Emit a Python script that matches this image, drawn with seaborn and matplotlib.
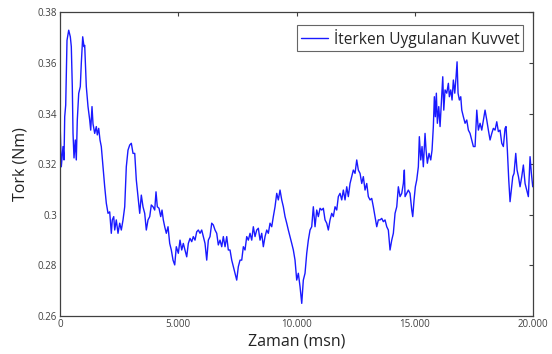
import numpy as np
import pandas as pd
import matplotlib
matplotlib.use("Agg")
import matplotlib.pyplot as plt
from matplotlib.ticker import FuncFormatter
import seaborn as sns

# time (ms) and torque (Nm)
zaman = [
    0, 55, 127, 169, 199, 241, 296, 368, 436, 478, 520, 550, 592, 647, 689,
    731, 791, 858, 901, 960, 1015, 1044, 1112, 1184, 1256, 1298, 1353, 1395,
    1467, 1535, 1577, 1636, 1691, 1746, 1818, 1890, 1958, 2030, 2101, 2169,
    2211, 2271, 2313, 2380, 2452, 2524, 2592, 2664, 2736, 2803, 2875, 2947,
    3015, 3087, 3159, 3226, 3298, 3370, 3438, 3509, 3581, 3649, 3721, 3793,
    3860, 3932, 4004, 4059, 4114, 4186, 4258, 4313, 4368, 4427, 4495, 4567,
    4638, 4706, 4778, 4850, 4917,
    5002, 5074, 5146, 5213, 5285, 5357, 5425, 5497, 5569, 5636, 5708, 5780,
    5848, 5920, 5991, 6059, 6131, 6203, 6271, 6342, 6414, 6482, 6554, 6626,
    6693, 6765, 6837, 6905, 6977, 7049, 7116, 7188, 7260, 7328, 7400, 7471,
    7539, 7611, 7683, 7751, 7822, 7894, 7962, 8034, 8106, 8173, 8245, 8317,
    8385, 8457, 8528, 8596, 8668, 8740, 8808, 8879, 8951, 9019, 9091, 9163,
    9230, 9302, 9374, 9442, 9514, 9585, 9653, 9725, 9797, 9865, 9936,
    10008, 10076, 10148, 10220, 10287, 10359, 10431, 10499, 10571, 10642,
    10710, 10782, 10854, 10922, 10994, 11065, 11133, 11205, 11277, 11344,
    11416, 11488, 11556, 11628, 11699, 11767, 11839, 11911, 11979, 12051,
    12122, 12190, 12262, 12334, 12401, 12473, 12545, 12613, 12685, 12757,
    12824, 12896, 12968, 13036, 13108, 13179, 13247, 13319, 13391, 13459,
    13531, 13602, 13670, 13742, 13814, 13881, 13953, 14025, 14093, 14165,
    14237, 14304, 14376, 14448, 14516, 14558, 14588, 14659, 14727,
    14799, 14871, 14913, 14968, 15023, 15082, 15150, 15192, 15252, 15306,
    15361, 15433, 15476, 15531, 15602, 15674, 15729, 15784, 15827, 15869,
    15911, 15954, 16013, 16068, 16123, 16182, 16225, 16279, 16351, 16419,
    16461, 16520, 16575, 16630, 16690, 16745, 16787, 16829, 16884, 16943,
    16986, 17053, 17125, 17197, 17265, 17336, 17408, 17476, 17548, 17620,
    17687, 17759, 17831, 17899, 17970, 18042, 18110, 18182, 18254, 18321,
    18393, 18465, 18533, 18604, 18676, 18744, 18816, 18858, 18913, 18972,
    19027, 19082, 19142, 19196, 19268, 19323, 19383, 19450, 19522, 19590,
    19662, 19733, 19801, 19873, 19928, 19987,
]
tork = [
    0.3375, 0.319, 0.327, 0.3217, 0.3388, 0.3434, 0.369, 0.373, 0.3704,
    0.3665, 0.3507, 0.3323, 0.3225, 0.3296, 0.3217, 0.3375, 0.348, 0.3507,
    0.36, 0.3704, 0.3665, 0.367, 0.3507, 0.3428, 0.3375, 0.3335, 0.3428,
    0.336, 0.3322, 0.3349, 0.3316, 0.3342, 0.3296, 0.327, 0.319, 0.3111,
    0.3046, 0.3006, 0.3012, 0.2927, 0.298, 0.2993, 0.294, 0.298, 0.2927,
    0.2967, 0.294, 0.298, 0.3032, 0.319, 0.3256, 0.3276, 0.3283, 0.3243,
    0.3243, 0.3138, 0.3072, 0.3006, 0.3078, 0.3032, 0.3006, 0.294, 0.298,
    0.2993, 0.3039, 0.3032, 0.3019, 0.3091, 0.3032, 0.3026, 0.2993, 0.3019,
    0.298, 0.2953, 0.2927, 0.2953, 0.2887, 0.2861, 0.2821, 0.2802, 0.2874,
    0.2848, 0.29, 0.2861, 0.2887, 0.2861, 0.2834, 0.2887, 0.2907, 0.2894,
    0.2914, 0.29, 0.2933, 0.294, 0.2927, 0.294, 0.2914, 0.2887, 0.2821,
    0.29, 0.2914, 0.2967, 0.296, 0.294, 0.2927, 0.2881, 0.29, 0.2874,
    0.2914, 0.2874, 0.2914, 0.2861, 0.2861, 0.2821, 0.2795, 0.2769, 0.2742,
    0.2795, 0.2821, 0.2821, 0.2874, 0.2861, 0.2914, 0.29, 0.2927, 0.29,
    0.2953, 0.2914, 0.294, 0.2947, 0.29, 0.2927, 0.2874, 0.2914, 0.294,
    0.2927, 0.2967, 0.2953, 0.2993, 0.3032, 0.3085, 0.3059, 0.3098, 0.3059,
    0.3032, 0.2993, 0.2967, 0.294, 0.2914, 0.2887, 0.2861, 0.2821,
    0.2742, 0.2769, 0.2716, 0.265, 0.2742, 0.2769, 0.2848, 0.29, 0.294,
    0.2953, 0.3032, 0.2953, 0.3019, 0.2993, 0.3026, 0.3019, 0.3026, 0.298,
    0.2967, 0.294, 0.298, 0.3006, 0.2993, 0.3032, 0.3019, 0.3072, 0.3085,
    0.3059, 0.3098, 0.3059, 0.3111, 0.3072, 0.3124, 0.3151, 0.3177, 0.3164,
    0.3217, 0.3177, 0.3164, 0.3124, 0.3151, 0.3098, 0.3124, 0.3072, 0.3059,
    0.3065, 0.3032, 0.2993, 0.2953, 0.298, 0.298, 0.2986, 0.2973, 0.298,
    0.2953, 0.294, 0.2861, 0.29, 0.2927, 0.3006, 0.3032, 0.3111, 0.3072,
    0.3085, 0.3124, 0.3177, 0.3072, 0.3085, 0.3098,
    0.3085, 0.3019, 0.2993, 0.3059, 0.3111, 0.3138, 0.319, 0.3309, 0.3217,
    0.327, 0.319, 0.3322, 0.3256, 0.3204, 0.3243, 0.3217, 0.3256, 0.3349,
    0.3467, 0.3388, 0.3481, 0.3362, 0.3428, 0.3349, 0.3441, 0.3546, 0.3414,
    0.3494, 0.3481, 0.352, 0.3467, 0.3494, 0.3454, 0.3533, 0.3481, 0.3546,
    0.3605, 0.3481, 0.3454, 0.3467, 0.3414, 0.3388, 0.3362, 0.3375, 0.3335,
    0.3322, 0.3296, 0.327, 0.327, 0.3414, 0.3335, 0.3362, 0.3335, 0.3375,
    0.3414, 0.3375, 0.3335, 0.3296, 0.3322, 0.3342, 0.3335, 0.3368, 0.3329,
    0.3335, 0.3283, 0.327, 0.3342, 0.3349, 0.3256, 0.3138, 0.3052, 0.3098,
    0.3151, 0.3164, 0.3243, 0.3177, 0.3151, 0.3111, 0.3151, 0.3197, 0.3124,
    0.3098, 0.3072, 0.323, 0.3164, 0.3111,
]
x_ticks = [0, 5000, 10000, 15000, 20000]
y_ticks = [0.26, 0.28, 0.30, 0.32, 0.34, 0.36, 0.38]

df = pd.DataFrame({"Zaman": zaman, "Tork": tork})

sns.set_style("white")
plt.rcParams["font.family"] = ["Open Sans", "DejaVu Sans"]

fig = plt.figure(figsize=(5.52, 3.54), dpi=100)
ax = fig.add_axes([0.1087, 0.1073, 0.857, 0.8574])

sns.lineplot(data=df, x="Zaman", y="Tork", ax=ax, sort=False, estimator=None,
             color="#1a1aff", linewidth=1.0, label="İterken Uygulanan Kuvvet")

ax.set_xlim(0, 20000)
ax.set_ylim(0.26, 0.38)
ax.set_xticks(x_ticks)
ax.set_yticks(y_ticks)
ax.xaxis.set_major_formatter(FuncFormatter(
    lambda v, p: f"{int(v):,}".replace(",", ".")))
ax.yaxis.set_major_formatter(FuncFormatter(lambda v, p: f"{v:g}"))
ax.tick_params(axis="both", direction="in", length=3, width=0.8,
               labelsize=7, colors="#404040", top=True, right=True,
               labeltop=False, labelright=False, pad=2)
for s in ax.spines.values():
    s.set_color("#404040")
    s.set_linewidth(0.9)

ax.set_xlabel("Zaman (msn)", fontsize=11.5, color="#222222", labelpad=3)
ax.set_ylabel("Tork (Nm)", fontsize=11.5, color="#222222", labelpad=7)

leg = ax.legend(loc="upper right", fontsize=11.2, frameon=True, fancybox=False,
                handlelength=1.75, handletextpad=0.35, borderpad=0.25,
                borderaxespad=0.0, bbox_to_anchor=(0.9795, 0.96))
leg.get_frame().set_edgecolor("#404040")
leg.get_frame().set_linewidth(0.8)

fig.savefig("out.png", dpi=100)
